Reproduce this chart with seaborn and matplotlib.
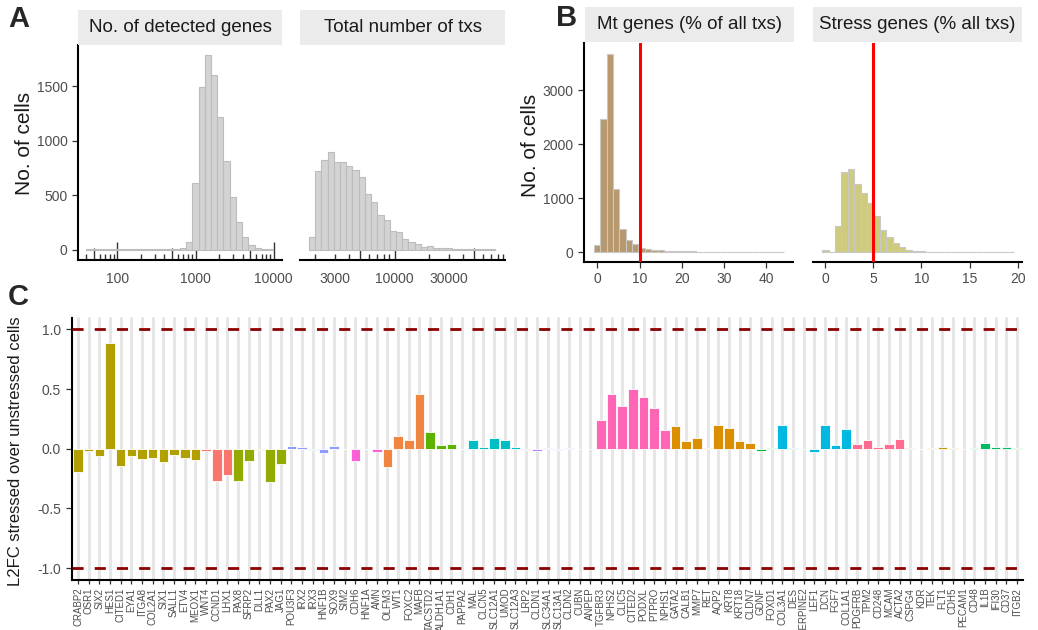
import numpy as np
import pandas as pd
import matplotlib
matplotlib.use("Agg")
import matplotlib.pyplot as plt
import seaborn as sns
from matplotlib.transforms import blended_transform_factory

sns.set_theme(style="white")
plt.rcParams["font.family"] = ["Liberation Sans", "DejaVu Sans"]

# ---------------- data ----------------
# Panel A: histograms (log10 bin range + counts)
genes_log_start, genes_log_stop = 1.604, 3.995
genes_counts = [5, 5, 5, 5, 5, 5, 5, 5, 5, 5, 5, 5, 5, 6, 8, 15, 73, 610, 1494, 1790,
                1607, 1220, 811, 488, 253, 122, 40, 15, 6, 6]
txs_log_start, txs_log_stop = 3.248, 4.883
txs_counts = [116, 726, 823, 899, 808, 808, 768, 729, 665, 509, 442, 320, 271, 174, 162,
              95, 70, 49, 30, 34, 15, 12, 15, 9, 9, 6, 6, 3, 3, 3]
# Panel B
mt_start, mt_stop = -0.75, 44.25
mt_counts = [122, 2467, 3678, 1175, 435, 214, 147, 67, 49, 37, 31, 24, 18, 15, 12, 10, 9,
             8, 7, 6, 6, 5, 5, 5, 4, 4, 4, 3, 3, 3]
stress_start, stress_stop = -1 / 3, 59 / 3
stress_counts = [37, 0, 490, 1475, 1530, 1261, 1089, 906, 667, 416, 282, 171, 92, 43, 24,
                 12, 8, 6, 5, 4, 4, 3, 3, 3, 2, 2, 2, 2, 2, 2]
mt_cutoff = 10
stress_cutoff = 5

# Panel C
genes = ["CRABP2", "OSR1", "SIX2", "HES1", "CITED1", "EYA1", "ITGA8", "COL2A1", "SIX1",
         "SALL1", "ETV4", "MEOX1", "WNT4", "CCND1", "LHX1", "PAX8", "SFRP2", "DLL1", "PAX2",
         "JAG1", "POU3F3", "IRX2", "IRX3", "HNF1B", "SOX9", "SIM2", "CDH6", "HNF1A", "AMN",
         "OLFM3", "WT1", "FOXC2", "MAFB", "TACSTD2", "ALDH1A1", "CDH1", "PAPPA2", "MAL",
         "CLCN5", "SLC12A1", "UMOD", "SLC12A3", "LRP2", "CLDN1", "SLC34A1", "SLC13A1",
         "CLDN2", "CUBN", "ANPEP", "TGFBR3", "NPHS2", "CLIC5", "CITED2", "PODXL", "PTPRO",
         "NPHS1", "GATA2", "CALB1", "MMP7", "RET", "AQP2", "KRT8", "KRT18", "CLDN7", "GDNF",
         "FOXD1", "COL3A1", "DES", "SERPINE2", "LEF1", "DCN", "FGF7", "COL1A1", "PDGFRB",
         "TPM2", "CD248", "MCAM", "ACTA2", "CSPG4", "KDR", "TEK", "FLT1", "CDH5", "PECAM1",
         "CD48", "IL1B", "IFI30", "CD37", "ITGB2"]
l2fc = [-0.198, -0.022, -0.061, 0.883, -0.142, -0.064, -0.084, -0.081, -0.115, -0.053, -0.078, -0.092,
        -0.017, -0.271, -0.223,
        -0.268, -0.106, -0.011, -0.277, -0.131,
        0.022, 0.017, -0.008, -0.034, 0.020, -0.006,
        -0.105, -0.003, -0.025,
        -0.150, 0.106, 0.070, 0.455,
        0.142, 0.028, 0.036,
        -0.005, 0.075, 0.011, 0.087, 0.075, 0.011,
        -0.014, -0.022, 0.005, -0.014, 0.003, -0.006, -0.006,
        0.240, 0.460, 0.355, 0.497, 0.436, 0.344, 0.156,
        0.187, 0.061, 0.089, 0.003, 0.200, 0.173, 0.064, 0.050,
        -0.017, 0.006,
        0.200, 0.005, -0.006, -0.031, 0.198, 0.028, 0.162,
        0.039, 0.073, 0.014, 0.042, 0.078, 0.003,
        0.002, 0.004, 0.014, 0.005, 0.002,
        0.003, 0.047, 0.011, 0.014, 0.008]
group_sizes = [12, 3, 5, 6, 3, 4, 3, 6, 7, 7, 8, 2, 7, 6, 5, 5]
group_colors = ["#B2A000", "#F8766D", "#93AA00", "#8E9CFF", "#FB61D7", "#EF8540", "#5BB300",
                "#00BFC4", "#B983FF", "#FF65B5", "#DB8E00", "#00BA38", "#00B8E0", "#FF6C91",
                "#C59900", "#00BC5F"]
group_names = [f"G{i + 1}" for i in range(len(group_sizes))]
groups = [g for g, n in zip(group_names, group_sizes) for _ in range(n)]

# ---------------- layout ----------------
W, H = 1038, 630
fig = plt.figure(figsize=(W / 100, H / 100), dpi=100)


def box(x0, x1, yt, yb):
    return [x0 / W, 1 - yb / H, (x1 - x0) / W, (yb - yt) / H]


TICKC = "#4D4D4D"
SPINE_LW = 1.5


def style(ax, left=True):
    for s in ["top", "right"]:
        ax.spines[s].set_visible(False)
    ax.spines["bottom"].set_linewidth(SPINE_LW)
    ax.spines["bottom"].set_color("black")
    if left:
        ax.spines["left"].set_linewidth(SPINE_LW)
        ax.spines["left"].set_color("black")
    else:
        ax.spines["left"].set_visible(False)
    ax.set_xlabel("")
    ax.set_ylabel("")
    ax.tick_params(axis="both", labelsize=10, labelcolor=TICKC, color="#333333",
                   length=4, width=0.9, pad=3.5, bottom=True, left=left)


def strip(x0, x1, yt, yb, text):
    s = fig.add_axes(box(x0, x1, yt, yb))
    s.set_facecolor("#EBEBEB")
    for sp in s.spines.values():
        sp.set_visible(False)
    s.set_xticks([])
    s.set_yticks([])
    s.text(0.5, 0.5, text, ha="center", va="center", fontsize=13.5, color="#1A1A1A",
           transform=s.transAxes)


def logticks(ax, lo_dec, hi_dec, lo, hi):
    tr = blended_transform_factory(ax.transData, ax.transAxes)
    h = ax.get_position().height * H
    for d in range(lo_dec, hi_dec + 1):
        for m in range(1, 10):
            v = m * 10 ** d
            if v < lo or v > hi:
                continue
            L = 18 if m == 1 else (12 if m == 5 else 6)
            ax.vlines(v, 0, L / h, transform=tr, color="#333333", lw=1.0, zorder=0.5)


def hist(ax, start, stop, counts, log, color, edge):
    n = len(counts)
    edges = np.linspace(start, stop, n + 1)
    centers = (edges[:-1] + edges[1:]) / 2
    xs = 10 ** centers if log else centers
    d = pd.DataFrame({"x": xs, "w": np.asarray(counts, dtype=float)})
    sns.histplot(data=d, x="x", weights="w", bins=n, binrange=(start, stop),
                 log_scale=log, ax=ax, color=color, edgecolor=edge, stat="count",
                 element="bars", fill=True, alpha=1, linewidth=0.8)


# ---- A left
axA1 = fig.add_axes(box(78, 282, 45, 259.5))
hist(axA1, genes_log_start, genes_log_stop, genes_counts, True, "#D3D3D3", "#BDBDBD")
xlimA1 = (10 ** 1.497, 10 ** 4.106)
axA1.set_xlim(*xlimA1)
axA1.set_ylim(-89, 1880)
style(axA1)
axA1.set_xticks([100, 1000, 10000], ["100", "1000", "10000"])
axA1.xaxis.set_minor_locator(matplotlib.ticker.NullLocator())
axA1.tick_params(axis="x", length=0, pad=9)
axA1.set_yticks([0, 500, 1000, 1500])
logticks(axA1, 1, 4, *xlimA1)
strip(78, 282, 10, 45, "No. of detected genes")

# ---- A right
axA2 = fig.add_axes(box(300, 505, 45, 259.5))
hist(axA2, txs_log_start, txs_log_stop, txs_counts, True, "#D3D3D3", "#BDBDBD")
xlimA2 = (10 ** 3.169, 10 ** 4.968)
axA2.set_xlim(*xlimA2)
axA2.set_ylim(-89, 1880)
style(axA2, left=False)
axA2.set_xticks([3000, 10000, 30000], ["3000", "10000", "30000"])
axA2.xaxis.set_minor_locator(matplotlib.ticker.NullLocator())
axA2.tick_params(axis="x", length=0, pad=9)
axA2.set_yticks([])
logticks(axA2, 3, 4, *xlimA2)
strip(300, 505, 10, 45, "Total number of txs")

# ---- B left
axB1 = fig.add_axes(box(584, 793, 43, 262))
hist(axB1, mt_start, mt_stop, mt_counts, False, "#B8996D", "#C8C8C8")
axB1.axvline(mt_cutoff, color="#FF0000", lw=2.2, zorder=3)
axB1.set_xlim(-3.14, 46.3)
axB1.set_ylim(-185, 3875)
style(axB1)
axB1.set_xticks([0, 10, 20, 30, 40])
axB1.set_yticks([0, 1000, 2000, 3000])
strip(585, 794, 7, 42, "Mt genes (% of all txs)")

# ---- B right
axB2 = fig.add_axes(box(813, 1022, 43, 262))
hist(axB2, stress_start, stress_stop, stress_counts, False, "#CFCB7C", "#C8C8C8")
axB2.axvline(stress_cutoff, color="#FF0000", lw=2.2, zorder=3)
axB2.set_xlim(-1.28, 20.45)
axB2.set_ylim(-185, 3875)
style(axB2, left=False)
axB2.set_xticks([0, 5, 10, 15, 20])
axB2.set_yticks([])
strip(813, 1022, 7, 42, "Stress genes (% all txs)")

# ---- C
axC = fig.add_axes(box(71.6, 1023.4, 317.5, 580))
df = pd.DataFrame({"gene": genes, "l2fc": l2fc, "group": groups})
palette = dict(zip(group_names, group_colors))
sns.barplot(data=df, x="gene", y="l2fc", hue="group", palette=palette, hue_order=group_names,
            order=genes, dodge=False, width=0.9, saturation=1, edgecolor="white",
            linewidth=0.6, legend=False, ax=axC, errorbar=None)
axC.grid(True, axis="x", color="#E6E6E6", linewidth=2.2)
axC.grid(False, axis="y")
axC.set_axisbelow(True)
for yv in (1, -1):
    axC.axhline(yv, color="#8B0000", lw=2.0, ls=(0, (4, 4)), zorder=3)
axC.set_xlim(-0.6, len(genes) - 0.4)
axC.set_ylim(-1.1, 1.1)
style(axC)
axC.set_yticks([-1, -0.5, 0, 0.5, 1], ["-1.0", "-0.5", "0.0", "0.5", "1.0"])
axC.set_xticks(range(len(genes)), genes)
axC.tick_params(axis="x", labelsize=7, rotation=90, length=3, pad=2.5)

# ---- labels
fig.text(25 / W, 1 - 143 / H, "No. of cells", rotation=90, ha="center", va="center",
         fontsize=15, color="#1A1A1A")
fig.text(531 / W, 1 - 145 / H, "No. of cells", rotation=90, ha="center", va="center",
         fontsize=15, color="#1A1A1A")
fig.text(16 / W, 1 - 451 / H, "L2FC stressed over unstressed cells", rotation=90,
         ha="center", va="center", fontsize=12, color="#1A1A1A")
for lab, x, y in [("A", 8, 19), ("B", 556, 18), ("C", 8, 297)]:
    fig.text(x / W, 1 - y / H, lab, fontsize=21, fontweight="bold", ha="left", va="center")

fig.savefig("out.png", dpi=100)
